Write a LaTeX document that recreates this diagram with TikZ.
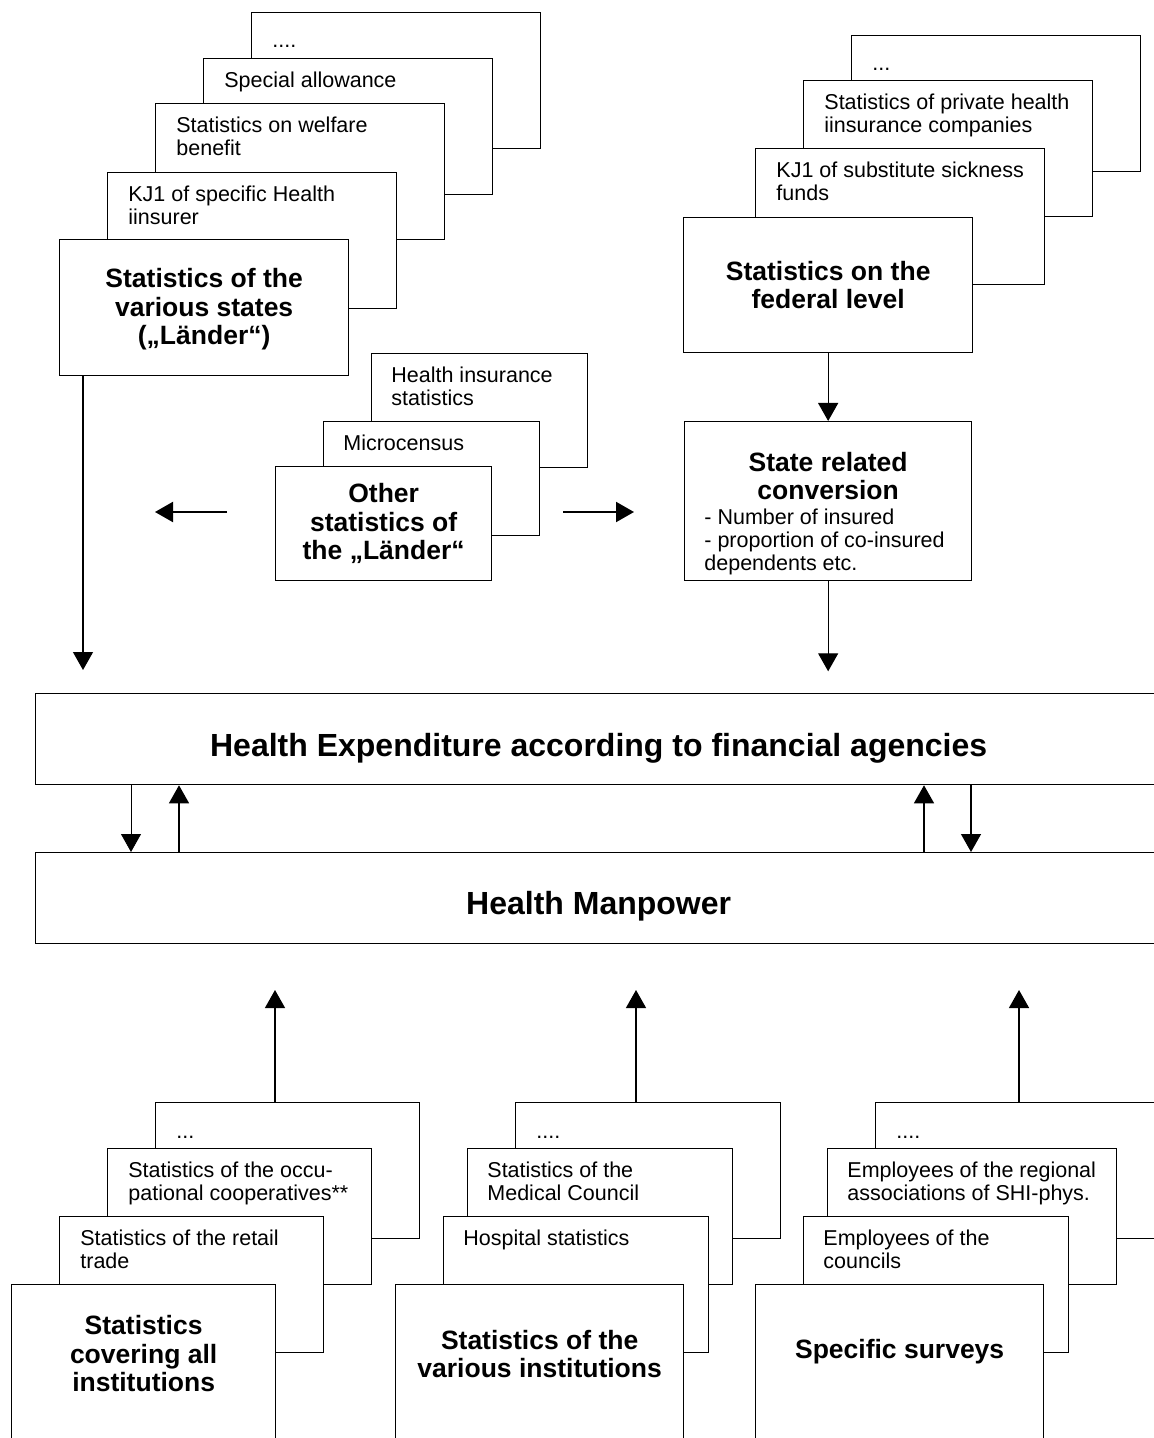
\documentclass[tikz,border=0pt]{standalone}
\usepackage{fontspec}
\setmainfont{Liberation Sans}
\usetikzlibrary{positioning}
\usetikzlibrary{arrows.meta}
\usetikzlibrary{calc}

\begin{document}
\begin{tikzpicture}[
    x=0.5pt, y=-0.5pt,
    card/.style={draw=black, fill=white, line width=0.65pt, anchor=north west, inner sep=0pt},
    note/.style={anchor=north west, inner sep=0pt, align=left, font=\fontsize{10.75}{11.5}\selectfont},
    dots/.style={note, anchor=base west},
    title/.style={align=center, inner sep=0pt, font=\fontsize{13.25}{14.25}\selectfont\bfseries},
    headline/.style={anchor=base, inner sep=0pt, font=\fontsize{16}{19}\selectfont\bfseries},
    link/.style={-{Triangle[length=9pt, width=10pt]}, line width=0.65pt}
]
    \useasboundingbox (0,0) rectangle (1154,1438);
    \clip (0,0) rectangle (1154,1438);

    % Statistics of the states
    \node[card, minimum width=144.5pt, minimum height=68pt] (TL4) at (251,12) {};
    \node[dots] (TL4t) at ($(TL4.north west)+(21,36)$) {....};
    \node[card, minimum width=144.5pt, minimum height=68pt] (TL3) at (203,58) {};
    \node[note] (TL3t) at ($(TL3.north west)+(21,13.5)$) {Special allowance};
    \node[card, minimum width=144.5pt, minimum height=68pt] (TL2) at (155,103) {};
    \node[note] (TL2t) at ($(TL2.north west)+(21,13.5)$) {Statistics on welfare\\benefit};
    \node[card, minimum width=144.5pt, minimum height=68pt] (TL1) at (107,172) {};
    \node[note] (TL1t) at ($(TL1.north west)+(21,13.5)$) {KJ1 of specific Health\\iinsurer};
    \node[card, minimum width=144.5pt, minimum height=68pt] (TL0) at (59,239) {};
    \node[title] (TL0t) at ($(TL0.center)+(0,2)$) {Statistics of the\\various states\\(„Länder“)};

    % Statistics on the federal level
    \node[card, minimum width=144.5pt, minimum height=68pt] (TR3) at (851,35) {};
    \node[dots] (TR3t) at ($(TR3.north west)+(21,36)$) {...};
    \node[card, minimum width=144.5pt, minimum height=68pt] (TR2) at (803,80) {};
    \node[note] (TR2t) at ($(TR2.north west)+(21,13.5)$) {Statistics of private health\\iinsurance companies};
    \node[card, minimum width=144.5pt, minimum height=68pt] (TR1) at (755,148) {};
    \node[note] (TR1t) at ($(TR1.north west)+(21,13.5)$) {KJ1 of substitute sickness\\funds};
    \node[card, minimum width=144.5pt, minimum height=67.5pt] (TR0) at (683,217) {};
    \node[title] (TR0t) at (TR0.center) {Statistics on the\\federal level};

    % Other statistics of the states
    \node[card, minimum width=108pt, minimum height=57pt] (ML2) at (371,353) {};
    \node[note] (ML2t) at ($(ML2.north west)+(20,14)$) {Health insurance\\statistics};
    \node[card, minimum width=108pt, minimum height=57pt] (ML1) at (323,421) {};
    \node[note] (ML1t) at ($(ML1.north west)+(20,13.5)$) {Microcensus};
    \node[card, minimum width=108pt, minimum height=57pt] (ML0) at (275,466) {};
    \node[title] (ML0t) at (ML0.center) {Other\\statistics of\\the „Länder“};

    \coordinate (aL1) at (227,512);
    \coordinate (aL2) at (155,512);
    \coordinate (aR1) at (563,512);
    \coordinate (aR2) at (634,512);
    \draw[link, line width=1pt] (aL1) -- (aL2);
    \draw[link, line width=1pt] (aR1) -- (aR2);

    % State related conversion
    \node[card, minimum width=143.5pt, minimum height=79.5pt] (SR) at (684,421) {};
    \node[title] (SRt) at ($(SR.north)+(0,55)$) {State related\\conversion};
    \node[note] (SRl) at ($(SR.north west)+(20,88)$) {- Number of insured\\- proportion of co-insured\\dependents etc.};
    \draw[link] (TR0.south) -- (SR.north);

    % Main blocks
    \node[card, minimum width=563pt, minimum height=45.5pt] (HE) at (35,693) {};
    \node[headline] (HEt) at ($(HE.south)+(0,-29)$) {Health Expenditure according to financial agencies};
    \node[card, minimum width=563pt, minimum height=45.5pt] (HM) at (35,852) {};
    \node[headline] (HMt) at ($(HM.south)+(0,-30)$) {Health Manpower};

    \coordinate (inL) at (83,670);
    \coordinate (inR) at ($(SR.south)+(0,90)$);
    \draw[link] ($(TL0.south west)+(24,0)$) -- (inL);
    \draw[link] (SR.south) -- (inR);

    \draw[link, line width=0.4pt] ($(HE.south west)+(96,0)$) -- ($(HM.north west)+(96,0)$);
    \draw[link] ($(HM.north west)+(144,0)$) -- ($(HE.south west)+(144,0)$);
    \draw[link] ($(HM.north west)+(889,0)$) -- ($(HE.south west)+(889,0)$);
    \draw[link] ($(HE.south west)+(936,0)$) -- ($(HM.north west)+(936,0)$);

    % Statistics covering all institutions
    \node[card, minimum width=132pt, minimum height=68pt] (BL3) at (155,1102) {};
    \node[dots] (BL3t) at ($(BL3.north west)+(21,36)$) {...};
    \node[card, minimum width=132pt, minimum height=68pt] (BL2) at (107,1148) {};
    \node[note] (BL2t) at ($(BL2.north west)+(21,13.5)$) {Statistics of the occu-\\pational cooperatives**};
    \node[card, minimum width=132pt, minimum height=68pt] (BL1) at (59,1216) {};
    \node[note] (BL1t) at ($(BL1.north west)+(21,13.5)$) {Statistics of the retail\\trade};
    \node[card, minimum width=132pt, minimum height=100pt] (BL0) at (11,1284) {};
    \node[title] (BL0t) at ($(BL0.north)+(0,70)$) {Statistics\\covering all\\institutions};

    % Statistics of the various institutions
    \node[card, minimum width=132.5pt, minimum height=68pt] (BM3) at (515,1102) {};
    \node[dots] (BM3t) at ($(BM3.north west)+(21,36)$) {....};
    \node[card, minimum width=132.5pt, minimum height=68pt] (BM2) at (467,1148) {};
    \node[note] (BM2t) at ($(BM2.north west)+(20,13.5)$) {Statistics of the\\Medical Council};
    \node[card, minimum width=132.5pt, minimum height=68pt] (BM1) at (443,1216) {};
    \node[note] (BM1t) at ($(BM1.north west)+(20,13.5)$) {Hospital statistics};
    \node[card, minimum width=144pt, minimum height=100pt] (BM0) at (395,1284) {};
    \node[title] (BM0t) at ($(BM0.north)+(0,70)$) {Statistics of the\\various institutions};

    % Specific surveys
    \node[card, minimum width=144.5pt, minimum height=68pt] (BR3) at (875,1102) {};
    \node[dots] (BR3t) at ($(BR3.north west)+(21,36)$) {....};
    \node[card, minimum width=144.5pt, minimum height=68pt] (BR2) at (827,1148) {};
    \node[note] (BR2t) at ($(BR2.north west)+(20,13.5)$) {Employees of the regional\\associations of SHI-phys.};
    \node[card, minimum width=132.5pt, minimum height=68pt] (BR1) at (803,1216) {};
    \node[note] (BR1t) at ($(BR1.north west)+(20,13.5)$) {Employees of the\\councils};
    \node[card, minimum width=144pt, minimum height=100pt] (BR0) at (755,1284) {};
    \node[title] (BR0t) at ($(BR0.north)+(0,68)$) {Specific surveys};

    % Transitions to Health Manpower
    \coordinate (up1) at (275,990);
    \coordinate (up2) at (636,990);
    \coordinate (up3) at (1019,990);
    \draw[link] ($(BL3.north west)+(120,0)$) -- (up1);
    \draw[link] ($(BM3.north west)+(121,0)$) -- (up2);
    \draw[link] ($(BR3.north west)+(144,0)$) -- (up3);
\end{tikzpicture}
\end{document}
